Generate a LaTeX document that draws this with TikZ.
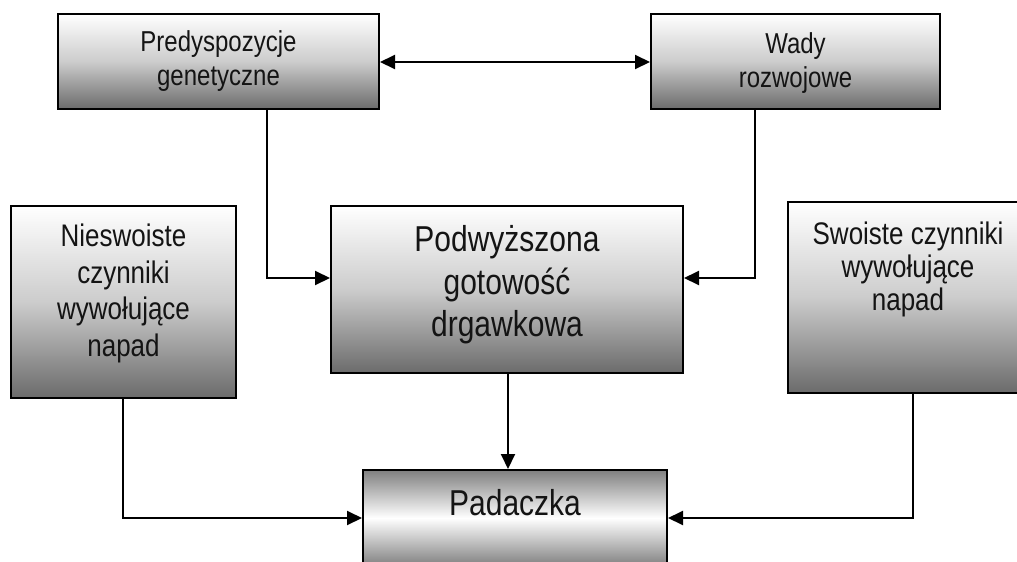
\documentclass[tikz,border=0pt]{standalone}
\usepackage{fontspec}
\setmainfont{Liberation Sans}
\usetikzlibrary{arrows.meta}
\newcommand{\bxt}[3]{{\fontsize{#1}{#2}\selectfont\scalebox{1}[1.2]{\begin{tabular}{@{}c@{}}#3\end{tabular}}}}
\begin{document}
\begin{tikzpicture}[x=1pt,y=-1pt,
  box/.style={draw=black, line width=2pt, inner sep=0pt, top color=white, bottom color=black!58, middle color=black!20},
  padbox/.style={draw=black, line width=2pt, inner sep=0pt, top color=black!50, bottom color=black!50, middle color=white},
  lbl/.style={inner sep=0pt, text=black!92, anchor=center},
  arr/.style={line width=2pt, -{Triangle[length=15pt,width=14pt]}},
  darr/.style={line width=2pt, {Triangle[length=15pt,width=14pt]}-{Triangle[length=15pt,width=14pt]}}]
\useasboundingbox (0,0) rectangle (1017,562);
\clip (0,0) rectangle (1017,562);
% boxes
\node[box, minimum width=321pt, minimum height=95pt] (pred) at (218.5,61.5) {};
\node[box, minimum width=289pt, minimum height=95pt] (wady) at (795.5,61.5) {};
\node[box, minimum width=352pt, minimum height=167pt] (pod) at (507,289.5) {};
\node[box, minimum width=225pt, minimum height=192pt] (nies) at (123.5,302) {};
\node[box, minimum width=234pt, minimum height=191pt] (swo) at (905,297.5) {};
\node[padbox, minimum width=304pt, minimum height=96pt] (pad) at (515,518) {};
% texts
\node[lbl] (predt) at (218.5,61.6) {\bxt{24}{28}{Predyspozycje\\genetyczne}};
\node[lbl] (wadyt) at (795.5,64) {\bxt{24}{28}{Wady\\rozwojowe}};
\node[lbl] (podt) at (507,285.6) {\bxt{30}{35.4}{Podwyższona\\gotowość\\drgawkowa}};
\node[lbl] (niest) at (123.5,294.2) {\bxt{26}{30.5}{Nieswoiste\\czynniki\\wywołujące\\napad}};
\node[lbl] (swot) at (908,271.3) {\bxt{26}{27.4}{Swoiste czynniki\\wywołujące\\napad}};
\node[lbl] (padt) at (515,506.4) {\bxt{30}{36}{Padaczka}};
% connector coordinates
\coordinate (c0) at (500,62);
\coordinate (c1) at (267,278);
\coordinate (c2) at (755,278);
\coordinate (c3) at (508,420);
\coordinate (c4) at (123,518);
\coordinate (c5) at (913,518);
% connectors
\draw[darr] (pred.east |- c0) -- (wady.west |- c0);
\draw[arr] (c1 |- pred.south) -- (c1) -- (c1 -| pod.west);
\draw[arr] (c2 |- wady.south) -- (c2) -- (c2 -| pod.east);
\draw[arr] (c3 |- pod.south) -- (c3 |- pad.north);
\draw[arr] (c4 |- nies.south) -- (c4) -- (c4 -| pad.west);
\draw[arr] (c5 |- swo.south) -- (c5) -- (c5 -| pad.east);
\end{tikzpicture}
\end{document}
